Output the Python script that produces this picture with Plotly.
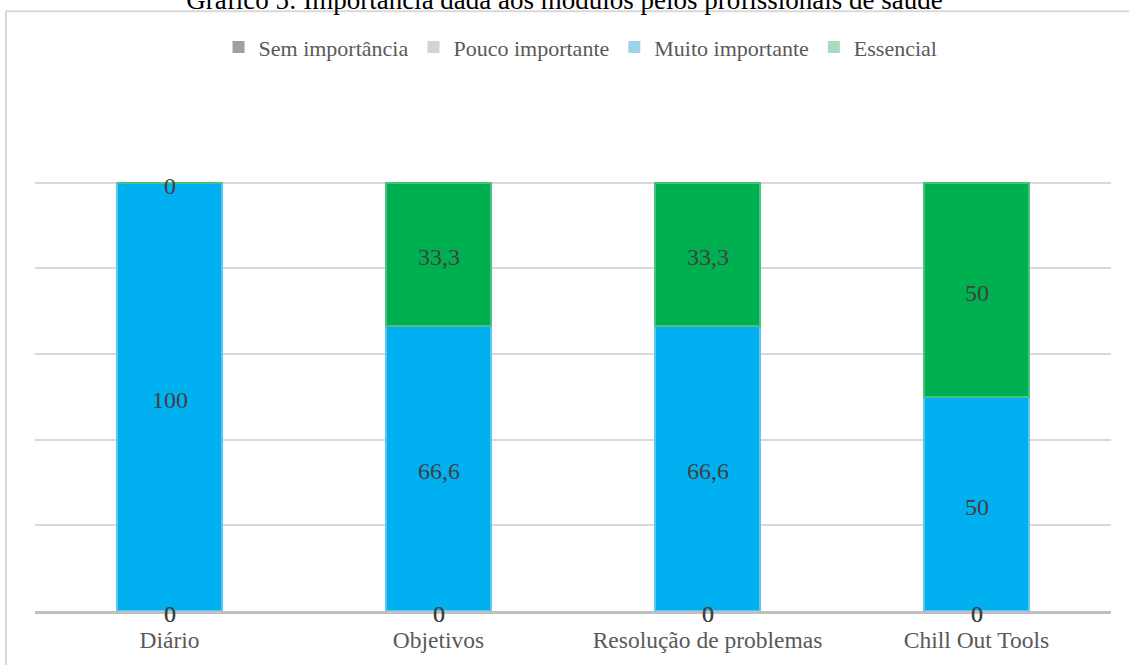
import plotly.graph_objects as go

categories = ["Diário", "Objetivos", "Resolução de problemas", "Chill Out Tools"]
series_names = ["Sem importância", "Pouco importante", "Muito importante", "Essencial"]
sem_importancia = [0, 0, 0, 0]
pouco_importante = [0, 0, 0, 0]
muito_importante = [100, 66.6, 66.6, 50]
essencial = [0, 33.3, 33.3, 50]

series_values = [sem_importancia, pouco_importante, muito_importante, essencial]
bar_colors = ["#A5A5A5", "#D0D0D0", "#00B0F0", "#00B050"]
edge_colors = ["#A5A5A5", "#D0D0D0", "#5CC6F0", "#4CC07E"]
legend_colors = ["#A0A0A0", "#D3D3D3", "#9DD3E6", "#A6DCBD"]

FONT = "Liberation Serif"

fig = go.Figure()

# bars
for name, vals, col, ecol in zip(series_names, series_values, bar_colors, edge_colors):
    fig.add_trace(go.Bar(
        x=categories, y=vals, name=name, showlegend=False,
        marker=dict(color=col, line=dict(color=ecol, width=2)),
        hoverinfo="x+y+name",
    ))

# legend-only entries (lighter swatches as in reference)
for name, col in zip(series_names, legend_colors):
    fig.add_trace(go.Bar(
        x=[None], y=[None], name=name, showlegend=True,
        marker=dict(color=col, line=dict(width=0)),
    ))

# data labels at the centre of each stacked segment
annotations = []
base = [0.0] * len(categories)
for name, vals in zip(series_names, series_values):
    for cat, b, v in zip(categories, base, vals):
        annotations.append(dict(
            x=cat, y=b + v / 2, xref="x", yref="y",
            text=("%g" % v).replace(".", ","), showarrow=False,
            xanchor="center", yanchor="middle", yshift=-3,
            font=dict(family=FONT, size=24, color="#404040"),
        ))
    base = [b + v for b, v in zip(base, vals)]

fig.update_layout(
    width=1129, height=665,
    margin=dict(l=35, r=18, t=97, b=52),
    paper_bgcolor="white", plot_bgcolor="white",
    barmode="stack", bargap=0.61,
    font=dict(family=FONT, size=22, color="#595959"),
    title=dict(
        text="Gráfico 5: Importância dada aos módulos pelos profissionais de saúde",
        x=0.5, xanchor="center", xref="container",
        y=1.0, yanchor="middle", yref="container",
        font=dict(family=FONT, size=27, color="#000000"),
    ),
    legend=dict(
        orientation="h", x=0.507, xanchor="center", y=1.0969, yanchor="middle",
        traceorder="normal", font=dict(family=FONT, size=22, color="#595959"),
        itemwidth=30, bgcolor="rgba(0,0,0,0)",
    ),
    xaxis=dict(
        showgrid=False, showline=True, linecolor="#BFBFBF", linewidth=3,
        ticks="", ticklabelstandoff=6,
        tickfont=dict(family=FONT, size=23.5, color="#595959"),
        fixedrange=True,
    ),
    yaxis=dict(
        range=[0, 120], dtick=20, showticklabels=False, showgrid=True,
        gridcolor="#D9D9D9", gridwidth=1.5, zeroline=False, showline=False,
        fixedrange=True,
    ),
    annotations=annotations,
    shapes=[
        dict(type="line", xref="paper", yref="paper",
             x0=-0.027, x1=1.05, y0=1.1667, y1=1.1667,
             line=dict(color="#D9D9D9", width=2)),
        dict(type="line", xref="paper", yref="paper",
             x0=-0.027, x1=-0.027, y0=1.1667, y1=-0.11,
             line=dict(color="#D9D9D9", width=2)),
    ],
)

fig.write_html("out.html")
